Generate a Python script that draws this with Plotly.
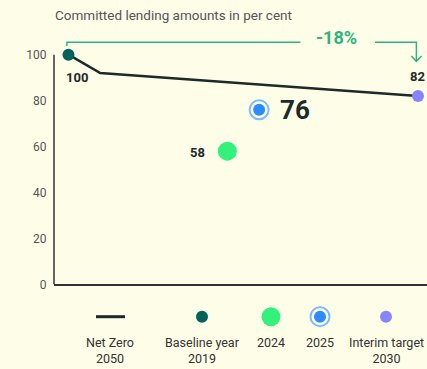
import plotly.graph_objects as go

# ---- data ----
path_years = [2019, 2020, 2030]          # Net Zero 2050 pathway
path_values = [100, 92, 82]

baseline_year, baseline_value = 2019, 100
y2024_year, y2024_value = 2024, 58
y2025_year, y2025_value = 2025, 76
target_year, target_value = 2030, 82
change_label = "-18%"

y_ticks = [0, 20, 40, 60, 80, 100]
title_text = "Committed lending amounts in per cent"
legend_labels = ["Net Zero<br>2050", "Baseline year<br>2019", "2024", "2025",
                 "Interim target<br>2030"]

# ---- styling ----
BG = "#fdfde8"
INK = "#1d2a2a"
TEAL = "#00625a"
GREEN = "#33f27c"
BLUE = "#2b8cff"
BLUE_RING = "#7cb9ff"
PURPLE = "#8585ff"
ACCENT = "#2fb380"
FONT = "Roboto"
W, H = 427, 369
K = 374 / 369            # vertical layout scale
PX_PER_UNIT = 2.31       # vertical pixels per percentage point
Y_MAX = 112

plot_bottom = 286 * K
plot_height = Y_MAX * PX_PER_UNIT * K

fig = go.Figure()

# pathway line
fig.add_trace(go.Scatter(x=path_years, y=path_values, mode="lines",
                         line=dict(color=INK, width=2.5), hoverinfo="skip"))

# bracket showing the change from baseline to interim target
br_y = baseline_value + 5.4
gap_lo, gap_hi = 2026.3, 2028.65
fig.add_trace(go.Scatter(
    x=[baseline_year - 0.05, baseline_year - 0.05, gap_lo, None,
       gap_hi, target_year - 0.05, target_year - 0.05],
    y=[br_y - 1.6, br_y, br_y, None, br_y, br_y, target_value + 15.1],
    mode="lines", line=dict(color=ACCENT, width=1.5), hoverinfo="skip"))
fig.add_trace(go.Scatter(
    x=[target_year - 0.21, target_year - 0.05, target_year + 0.11],
    y=[target_value + 17.4, target_value + 15.1, target_value + 17.4],
    mode="lines", line=dict(color=ACCENT, width=1.5), hoverinfo="skip"))

# points
fig.add_trace(go.Scatter(x=[baseline_year], y=[baseline_value], mode="markers",
                         marker=dict(size=12, color=TEAL),
                         cliponaxis=False, hoverinfo="skip"))
fig.add_trace(go.Scatter(x=[y2024_year], y=[y2024_value], mode="markers",
                         marker=dict(size=19, color=GREEN),
                         cliponaxis=False, hoverinfo="skip"))
fig.add_trace(go.Scatter(x=[y2025_year], y=[y2025_value], mode="markers",
                         marker=dict(size=19, color="white",
                                     line=dict(color=BLUE_RING, width=2)),
                         cliponaxis=False, hoverinfo="skip"))
fig.add_trace(go.Scatter(x=[y2025_year], y=[y2025_value], mode="markers",
                         marker=dict(size=12, color=BLUE),
                         cliponaxis=False, hoverinfo="skip"))
fig.add_trace(go.Scatter(x=[target_year], y=[target_value], mode="markers",
                         marker=dict(size=12, color=PURPLE),
                         cliponaxis=False, hoverinfo="skip"))

# value labels
def value_label(x, y, size, dx, dy):
    fig.add_annotation(x=x, y=y, xref="x", yref="y", text=f"<b>{y}</b>",
                       showarrow=False, xshift=dx, yshift=dy * K,
                       font=dict(size=size, color=INK, family=FONT))

value_label(baseline_year, baseline_value, 13, 8.5, -23)
value_label(y2024_year, y2024_value, 13, -30, -1)
value_label(y2025_year, y2025_value, 26, 36, 0)
value_label(target_year, target_value, 13, 0, 19)

fig.add_annotation(x=2027.45, y=br_y + 2.2, xref="x", yref="y",
                   text=f"<b>{change_label}</b>", showarrow=False, yanchor="middle",
                   font=dict(size=18, color=ACCENT, family=FONT))
fig.add_annotation(x=53 / W, y=1 - 15 * K / H, xref="paper", yref="paper",
                   text=title_text, showarrow=False, xanchor="left", yanchor="middle",
                   font=dict(size=13.5, color="#555555", family=FONT))

# legend drawn in a pixel-space overlay (x2/y2)
lx = [110, 202, 271, 320, 386]
ly = 318.5
legend_marks = [
    dict(size=12, color=TEAL),
    dict(size=19, color=GREEN),
    dict(size=19, color="white", line=dict(color=BLUE_RING, width=2)),
    dict(size=12, color=PURPLE),
]
fig.add_trace(go.Scatter(x=[lx[0] - 14, lx[0] + 15], y=[ly, ly], mode="lines",
                         line=dict(color=INK, width=3), xaxis="x2", yaxis="y2",
                         hoverinfo="skip"))
for x, mk in zip(lx[1:], legend_marks):
    fig.add_trace(go.Scatter(x=[x], y=[ly], mode="markers", marker=mk,
                             xaxis="x2", yaxis="y2", hoverinfo="skip"))
fig.add_trace(go.Scatter(x=[lx[3]], y=[ly], mode="markers",
                         marker=dict(size=12, color=BLUE),
                         xaxis="x2", yaxis="y2", hoverinfo="skip"))
for x, lab in zip(lx, legend_labels):
    fig.add_annotation(x=x, y=334.5, xref="x2", yref="y2", text=lab, showarrow=False,
                       yanchor="top", align="center",
                       font=dict(size=12.5, color="#333333", family=FONT))

# y-axis line only up to 100
fig.add_shape(type="line", xref="x domain", yref="y", x0=0, x1=0, y0=0, y1=100,
              line=dict(color="#333333", width=1.5))

fig.update_layout(
    width=W, height=H, margin=dict(l=0, r=0, t=0, b=0),
    paper_bgcolor=BG, plot_bgcolor="rgba(0,0,0,0)", showlegend=False,
    font=dict(family=FONT),
    xaxis=dict(domain=[54 / W, 1], range=[2018.544, 2030.284], showgrid=False,
               zeroline=False, showticklabels=False, showline=True,
               linecolor="#333333", linewidth=1.5, fixedrange=True),
    yaxis=dict(domain=[1 - plot_bottom / H, 1 - (plot_bottom - plot_height) / H],
               range=[0, Y_MAX], showgrid=False,
               zeroline=False, showline=False, tickvals=y_ticks,
               ticks="outside", ticklen=4, tickcolor="rgba(0,0,0,0)",
               tickfont=dict(size=12, color="#555555", family=FONT), fixedrange=True),
    xaxis2=dict(domain=[0, 1], range=[0, W], visible=False, anchor="y2",
                fixedrange=True),
    yaxis2=dict(domain=[0, 1], range=[H / K, 0], visible=False, anchor="x2",
                fixedrange=True),
)

fig.write_html("out.html")
